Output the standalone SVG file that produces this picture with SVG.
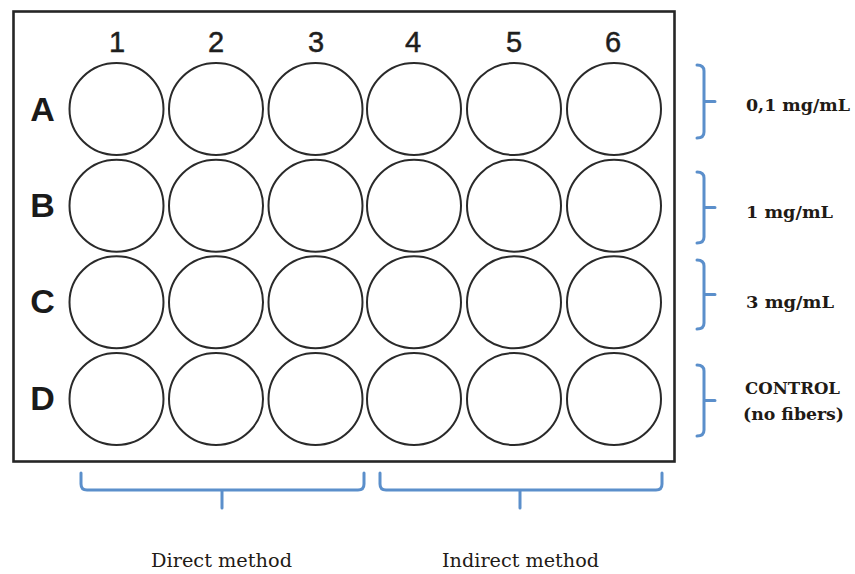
<svg xmlns="http://www.w3.org/2000/svg" width="855" height="574" viewBox="0 0 855 574">
  <style>
    .plate { fill: #ffffff; stroke: #262626; stroke-width: 2.6; }
    .well { fill: #ffffff; stroke: #2a2a2a; stroke-width: 2; }
    .col { font-family: "Liberation Sans", Arial, sans-serif; font-size: 29px; fill: #1e1e1e; stroke: #1e1e1e; stroke-width: 0.5; text-anchor: middle; }
    .row { font-family: "Liberation Sans", Arial, sans-serif; font-size: 34px; font-weight: bold; fill: #1a1a1a; text-anchor: middle; }
    .brace { fill: none; stroke: #5b8fcb; stroke-width: 3; stroke-linecap: round; stroke-linejoin: round; }
    .conc { font-family: "DejaVu Serif", "Liberation Serif", serif; font-size: 16px; font-weight: bold; fill: #1f1b16; }
    .method { font-family: "DejaVu Serif", "Liberation Serif", serif; font-size: 18.5px; fill: #1f1b16; }
  </style>
  <defs>
    <ellipse id="w" cx="0" cy="0" rx="47" ry="46" class="well"/>
  </defs>

  <!-- plate outline -->
  <g id="plate">
    <rect class="plate" x="13.5" y="11.5" width="661" height="450"/>
  </g>

  <!-- column numbers -->
  <g id="column-labels">
    <text class="col" x="117" y="52">1</text>
    <text class="col" x="216" y="52">2</text>
    <text class="col" x="316" y="52">3</text>
    <text class="col" x="413" y="52">4</text>
    <text class="col" x="514" y="52">5</text>
    <text class="col" x="613" y="52">6</text>
  </g>

  <!-- row letters -->
  <g id="row-labels">
    <text class="row" x="42.5" y="121">A</text>
    <text class="row" x="42.5" y="217">B</text>
    <text class="row" x="42.5" y="313">C</text>
    <text class="row" x="42.5" y="410">D</text>
  </g>

  <!-- wells -->
  <g id="row-A">
    <use href="#w" x="116.5" y="109"/><use href="#w" x="216" y="109"/><use href="#w" x="315.5" y="109"/>
    <use href="#w" x="414" y="109"/><use href="#w" x="514" y="109"/><use href="#w" x="614" y="109"/>
  </g>
  <g id="row-B">
    <use href="#w" x="116.5" y="205.7"/><use href="#w" x="216" y="205.7"/><use href="#w" x="315.5" y="205.7"/>
    <use href="#w" x="414" y="205.7"/><use href="#w" x="514" y="205.7"/><use href="#w" x="614" y="205.7"/>
  </g>
  <g id="row-C">
    <use href="#w" x="116.5" y="302.3"/><use href="#w" x="216" y="302.3"/><use href="#w" x="315.5" y="302.3"/>
    <use href="#w" x="414" y="302.3"/><use href="#w" x="514" y="302.3"/><use href="#w" x="614" y="302.3"/>
  </g>
  <g id="row-D">
    <use href="#w" x="116.5" y="399"/><use href="#w" x="216" y="399"/><use href="#w" x="315.5" y="399"/>
    <use href="#w" x="414" y="399"/><use href="#w" x="514" y="399"/><use href="#w" x="614" y="399"/>
  </g>

  <!-- grouping braces -->
  <g id="braces">
    <path class="brace" d="M697,65 Q704,65 704,71 V132 Q704,138 697,138 M704,101.5 H715"/>
    <path class="brace" d="M697,172 Q704,172 704,178 V237 Q704,243 697,243 M704,207.5 H715"/>
    <path class="brace" d="M697,260 Q704,260 704,266 V323 Q704,329 697,329 M704,294.5 H715"/>
    <path class="brace" d="M697,365 Q704,365 704,371 V430 Q704,436 697,436 M704,400.5 H715"/>
    <path class="brace" d="M81,473 V484 Q81,490 87,490 H358 Q364,490 364,484 V473 M222,490 V508"/>
    <path class="brace" d="M380,473 V484 Q380,490 386,490 H656 Q662,490 662,484 V473 M520,490 V508"/>
  </g>

  <!-- concentration labels -->
  <g id="concentration-labels">
    <text class="conc" x="746" y="111" textLength="104" lengthAdjust="spacingAndGlyphs">0,1 mg/mL</text>
    <text class="conc" x="746" y="218" textLength="87" lengthAdjust="spacingAndGlyphs">1 mg/mL</text>
    <text class="conc" x="746" y="308" textLength="88" lengthAdjust="spacingAndGlyphs">3 mg/mL</text>
    <text class="conc" x="745" y="394" textLength="95" lengthAdjust="spacingAndGlyphs">CONTROL</text>
    <text class="conc" x="743" y="420" textLength="101" lengthAdjust="spacingAndGlyphs">(no fibers)</text>
  </g>

  <!-- method labels -->
  <g id="method-labels">
    <text class="method" x="151" y="567" textLength="141" lengthAdjust="spacingAndGlyphs">Direct method</text>
    <text class="method" x="442" y="567" textLength="157" lengthAdjust="spacingAndGlyphs">Indirect method</text>
  </g>
</svg>
